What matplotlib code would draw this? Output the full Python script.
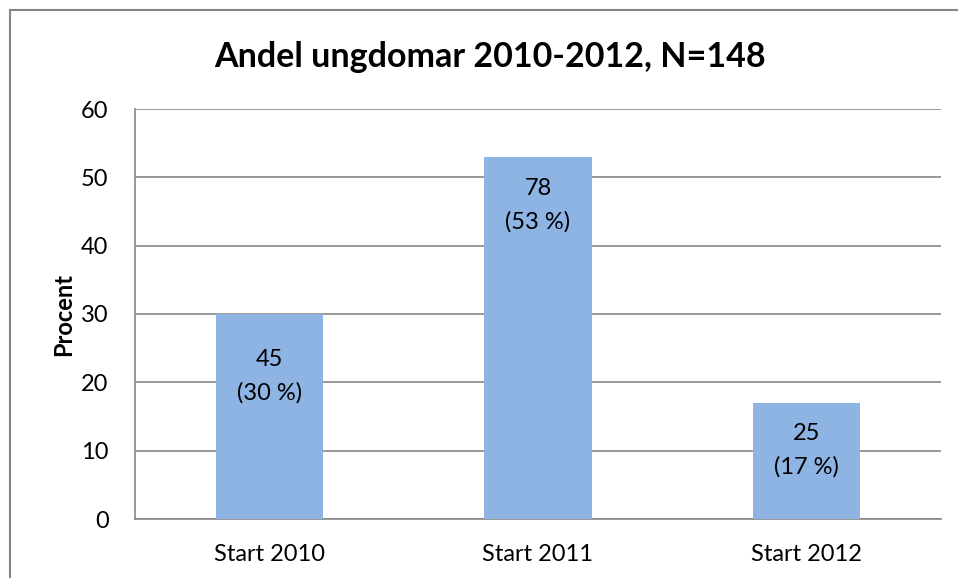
import matplotlib.pyplot as plt
from matplotlib.patches import Rectangle

# Data
categories = ["Start 2010", "Start 2011", "Start 2012"]
percent = [30, 53, 17]
counts = [45, 78, 25]
labels = [f"{c}\n({p} %)" for c, p in zip(counts, percent)]

# how far below the bar top each label sits (points)
label_drop = [25, 15, 14.5]

plt.rcParams["font.family"] = ["Lato", "DejaVu Sans"]

fig = plt.figure(figsize=(9.58, 5.78), dpi=100)
ax = fig.add_axes([135 / 958, 1 - 519 / 578, (941 - 135) / 958, (519 - 109) / 578])

x = range(len(categories))
bars = ax.bar(x, percent, width=0.4, color="#8EB4E3", zorder=3)

for b, lab, d in zip(bars, labels, label_drop):
    ax.annotate(lab, (b.get_x() + b.get_width() / 2, b.get_height()),
                xytext=(0, -d), textcoords="offset points",
                ha="center", va="top", fontsize=17, linespacing=1.7,
                color="black", zorder=4)

ax.set_xlim(-0.5, 2.5)
ax.set_ylim(0, 60)
ax.set_yticks(range(0, 61, 10))
ax.set_xticks(list(x))
ax.set_xticklabels(categories)
ax.tick_params(axis="both", labelsize=17, length=0)
ax.tick_params(axis="x", pad=18)
ax.tick_params(axis="y", pad=19)
ax.yaxis.grid(True, color="#868686", linewidth=1.2, zorder=0)

for side in ["top", "right"]:
    ax.spines[side].set_visible(False)
ax.spines["left"].set_color("#868686")
ax.spines["bottom"].set_color("#868686")
ax.spines["left"].set_linewidth(1.2)
ax.spines["bottom"].set_linewidth(1.2)

ax.set_ylabel("Procent", fontsize=17, fontweight="bold", labelpad=4)

fig.text(490 / 958, 1 - 57 / 578, "Andel ungdomar 2010-2012, N=148",
         ha="center", va="center", fontsize=24.5, fontweight="bold")

# outer chart border
fig.patches.append(Rectangle((10 / 958, -0.05), 1.0, 1 - 10 / 578 + 0.05,
                             transform=fig.transFigure, fill=False,
                             edgecolor="#868686", linewidth=1.5))

fig.savefig("out.png", dpi=100)
